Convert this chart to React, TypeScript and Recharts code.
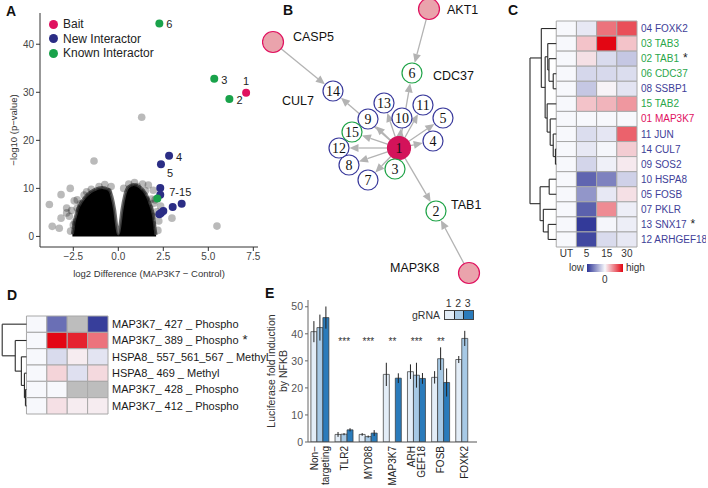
import {
  ComposedChart, ScatterChart, BarChart, Area, Scatter, Bar, ErrorBar,
  XAxis, YAxis, ReferenceLine, ReferenceArea, ReferenceDot, Legend,
} from 'recharts'

const FONT = '"Liberation Sans", Arial, Helvetica, sans-serif'
const SERIF = '"Liberation Serif", "Times New Roman", serif'

const BAIT = '#e0115f'
const NEW = '#2b2d85'
const KNOWN = '#19a24a'

// ---------- A: volcano ----------
// outline of the dense cloud of background proteins
const blobEnvelope = [
  { x: -2.55, y: 0.5 }, { x: -2.45, y: 3 }, { x: -2.3, y: 5.2 }, { x: -2.05, y: 7.2 },
  { x: -1.7, y: 8.8 }, { x: -1.3, y: 9.8 }, { x: -0.9, y: 10.2 }, { x: -0.55, y: 9.8 },
  { x: -0.35, y: 8.3 }, { x: -0.2, y: 5.5 }, { x: -0.08, y: 2 }, { x: 0, y: 0.5 },
  { x: 0.08, y: 2 }, { x: 0.2, y: 5.5 }, { x: 0.35, y: 8.5 }, { x: 0.55, y: 10.3 },
  { x: 0.85, y: 10.8 }, { x: 1.2, y: 10.3 }, { x: 1.55, y: 8.8 }, { x: 1.8, y: 6.5 },
  { x: 1.97, y: 4 }, { x: 2.05, y: 1.5 }, { x: 2.1, y: 0.3 },
]
const bgProteins = [
  { x: -3.83, y: 6.65 }, { x: -3.18, y: 8.7 }, { x: -2.67, y: 10 }, { x: -3.67, y: 2.1 },
  { x: -3.28, y: 1.7 }, { x: -2.28, y: 7.6 }, { x: -2.87, y: 4.9 }, { x: -2.72, y: 4.2 },
  { x: -3.18, y: 3.8 }, { x: -2.17, y: 5.5 }, { x: -1.94, y: 1.4 }, { x: -1.61, y: 1.4 },
  { x: -1.07, y: 10.4 }, { x: -1.76, y: 9.3 }, { x: 0.58, y: 10.9 }, { x: 1.06, y: 10.4 },
  { x: 1.67, y: 10.7 }, { x: 1.94, y: 9.6 }, { x: 2.04, y: 7.6 }, { x: 1.76, y: 5.8 },
  { x: 1.91, y: 4.2 }, { x: 2.2, y: 1.25 }, { x: 2.98, y: 3.8 }, { x: 5.48, y: 2.15 },
  { x: -0.55, y: 9.35 }, { x: 1.2, y: 9.0 }, { x: 1.52, y: 7.6 }, { x: 1.97, y: 6.9 },
  { x: -2.28, y: 5.9 }, { x: -1.94, y: 4.2 }, { x: -2.5, y: 2.4 }, { x: -1.02, y: 2.6 },
  { x: 1.58, y: 2.4 }, { x: -1.29, y: 6.1 }, { x: -2.87, y: 5.9 }, { x: 2.13, y: 5.1 },
  { x: 1.3, y: 24.8 }, { x: -1.35, y: 15.7 }, { x: -2.4, y: 3 }, { x: -2.1, y: 6.8 },
  { x: -1.5, y: 9.8 }, { x: 0.9, y: 11.2 }, { x: 1.5, y: 9.5 }, { x: 1.85, y: 7.8 },
  { x: 1.9, y: 2.5 }, { x: -2.2, y: 1 }, { x: -0.4, y: 10.4 }, { x: 0.3, y: 10 },
  { x: -2.6, y: 5.4 }, { x: -2.45, y: 7.4 }, { x: -1.9, y: 8.6 }, { x: 2.25, y: 3.2 },
  { x: -0.75, y: 10.8 }, { x: 1.35, y: 10.9 }, { x: -2.65, y: 1.1 }, { x: 2.35, y: 6.3 },
]
const baitHits = [{ x: 7.1, y: 29.9, label: '1' }]
const newHits = [
  { x: 2.82, y: 16.8, label: '4' }, { x: 2.37, y: 15, label: '5' }, { x: 2.33, y: 10.1, label: '7-15' },
  { x: 2.33, y: 8.7 }, { x: 3.52, y: 6.8 }, { x: 3.02, y: 6.1 }, { x: 2.5, y: 5.3 },
  { x: 2.37, y: 4.9 }, { x: 2.28, y: 4.6 },
]
const knownHits = [
  { x: 5.33, y: 32.8, label: '3' }, { x: 6.17, y: 28.6, label: '2' },
  { x: 2.28, y: 44.3, label: '6' }, { x: 2.17, y: 7.9 },
]
const volcanoXTicks = [-2.5, 0, 2.5, 5, 7.5]
const volcanoYTicks = [0, 10, 20, 30, 40]
const legendOrder = ['Bait', 'New Interactor', 'Known Interactor']

// label placement next to the highlighted points
const hitLabelOffset: Record<string, [number, number, 'start' | 'middle']> = {
  '1': [0, -12, 'middle'],
  '5': [6, 9, 'start'],
  '7-15': [9, 4, 'start'],
}

// ---------- B: network ----------
const nodes = [
  { id: 'AKT1', kind: 'up', x: 167, y: 9 },
  { id: 'CASP5', kind: 'up', x: 11, y: 42 },
  { id: 'MAP3K8', kind: 'up', x: 207, y: 273 },
  { id: '1', kind: 'bait', x: 137, y: 148 },
  { id: '2', kind: 'known', x: 174, y: 211 },
  { id: '3', kind: 'known', x: 133, y: 169 },
  { id: '4', kind: 'new', x: 171, y: 141 },
  { id: '5', kind: 'new', x: 181, y: 118 },
  { id: '6', kind: 'known', x: 150, y: 73 },
  { id: '7', kind: 'new', x: 106, y: 180 },
  { id: '8', kind: 'new', x: 87, y: 165 },
  { id: '9', kind: 'new', x: 106, y: 119 },
  { id: '10', kind: 'new', x: 140, y: 118 },
  { id: '11', kind: 'new', x: 161, y: 105 },
  { id: '12', kind: 'new', x: 77, y: 148 },
  { id: '13', kind: 'new', x: 122, y: 103 },
  { id: '14', kind: 'new', x: 71, y: 91 },
  { id: '15', kind: 'known', x: 90, y: 132 },
]
const edges = [
  ['CASP5', '14'], ['AKT1', '6'], ['MAP3K8', '2'],
  ['1', '2'], ['1', '3'], ['1', '4'], ['1', '5'], ['1', '6'], ['1', '7'], ['1', '8'],
  ['1', '9'], ['1', '10'], ['1', '11'], ['1', '12'], ['1', '13'], ['1', '14'], ['1', '15'],
]
const nodeLabels = [
  { text: 'AKT1', x: 185, y: 9 }, { text: 'CASP5', x: 31, y: 36 }, { text: 'CDC37', x: 171, y: 75 },
  { text: 'CUL7', x: 20, y: 100 }, { text: 'TAB1', x: 189, y: 204 }, { text: 'MAP3K8', x: 128, y: 267 },
]
const NODE_STYLE: Record<string, { r: number; fill: string; stroke: string }> = {
  up: { r: 10.5, fill: '#eaa3ac', stroke: '#e0115f' },
  bait: { r: 11.5, fill: '#d3135a', stroke: '#d3135a' },
  known: { r: 10, fill: '#ffffff', stroke: '#1fa347' },
  new: { r: 10, fill: '#ffffff', stroke: '#3a3a9c' },
}

// ---------- C: time course heatmap ----------
const cCols = ['UT', '5', '15', '30']
const cRows = ['04 FOXK2', '03 TAB3', '02 TAB1', '06 CDC37', '08 SSBP1', '15 TAB2', '01 MAP3K7',
  '11 JUN', '14 CUL7', '09 SOS2', '10 HSPA8', '05 FOSB', '07 PKLR', '13 SNX17', '12 ARHGEF18']
const cKind = ['new', 'known', 'known', 'known', 'new', 'known', 'bait',
  'new', 'new', 'new', 'new', 'new', 'new', 'new', 'new']
const cStar = [false, false, true, false, false, false, false, false, false, false, false, false, false, true, false]
const cValues = [
  [0, -0.08, 0.55, 0.7],
  [0, 0.22, 1.0, 0.22],
  [0, 0.1, -0.15, -0.25],
  [0, -0.17, -0.16, -0.14],
  [0, -0.25, 0.02, -0.1],
  [0, 0.22, 0.28, 0.4],
  [0, 0, 0, 0],
  [0, -0.14, -0.09, 0.62],
  [0, -0.08, -0.01, 0.18],
  [0, -0.18, -0.04, 0.06],
  [0, -0.75, -0.6, -0.2],
  [0, -0.5, -0.08, 0.1],
  [0, -0.77, 0.45, -0.05],
  [0, -0.97, -0.01, -0.05],
  [0, -0.9, -0.15, -0.08],
]
type Tree = number | [number, Tree, Tree]
const cTree: Tree = [1.3,
  [0.74, 0, [0.55, [0.42, 1, [0.36, 2, [0.15, 3, 4]]], [0.45, 5, [0.3, 6, [0.15, 7, [0.04, 8, 9]]]]]],
  [0.8, [0.35, 10, 11], [0.64, 12, [0.4, 13, 14]]],
]

// ---------- D: phospho-site heatmap ----------
const dRows = ['MAP3K7_ 427 _ Phospho', 'MAP3K7_ 389 _ Phospho', 'HSPA8_ 557_561_567 _ Methyl',
  'HSPA8_ 469 _ Methyl', 'MAP3K7_ 428 _ Phospho', 'MAP3K7_ 412 _ Phospho']
const dStar = [false, true, false, false, false, false]
const dValues: (number | null)[][] = [
  [0, -0.7, null, -0.95],
  [0, 1.0, 0.88, 0.55],
  [0, -0.15, 0.05, -0.1],
  [0, 0.15, -0.12, 0.13],
  [0, 0, null, null],
  [0, 0.1, 0.05, 0.05],
]
const dTree: Tree = [1.19, 0, [0.55, 1, [0.25, 2, [0.1, 3, [0.05, 4, 5]]]]]

// ---------- E: luciferase ----------
const eCats = ['Non−targeting', 'TLR2', 'MYD88', 'MAP3K7', 'ARHGEF18', 'FOSB', 'FOXK2']
const eTickLines: Record<string, string[]> = { 'Non−targeting': ['Non−', 'targeting'], ARHGEF18: ['ARH', 'GEF18'] }
const grna1 = [40.8, 2.8, 2.8, 25.0, 26.0, 23.9, 30.5]
const grna2 = [42.3, 2.9, 2.0, null, 24.7, 30.8, 38.3]
const grna3 = [46.0, 4.5, 3.3, 23.6, 23.5, 22.0, null]
const err1 = [3.9, 0.9, 0.5, 4.3, 2.7, 2.3, 1.3]
const err2 = [4.8, 0.4, 0.4, null, 4.6, 4.2, 2.8]
const err3 = [4.1, 0.6, 1.1, 1.8, 2.0, 5.2, null]
const eStars = ['', '***', '***', '**', '***', '**', '']
const eData = eCats.map((cat, i) => ({
  cat, g1: grna1[i], g2: grna2[i], g3: grna3[i], e1: err1[i], e2: err2[i], e3: err3[i],
}))
const GRNA_COLORS = ['#e3edf7', '#a7c9e5', '#2a7bbb']

// ---------- helpers ----------
const WHITE = [247, 248, 252]
const LOW = [45, 52, 150]
const HIGH = [227, 6, 19]
function heat(v: number | null) {
  if (v == null) return '#bdbdbd'
  const t = Math.min(1, Math.abs(v))
  const end = v < 0 ? LOW : HIGH
  const c = WHITE.map((w, i) => Math.round(w + (end[i] - w) * t))
  return `rgb(${c.join(',')})`
}

interface Seg { x1: number; y1: number; x2: number; y2: number }
function dendro(t: Tree, out: Seg[]): { y: number; h: number } {
  if (typeof t === 'number') return { y: t, h: 0 }
  const [h, l, r] = t
  const a = dendro(l, out)
  const b = dendro(r, out)
  out.push({ x1: -0.5 - h, y1: a.y, x2: -0.5 - h, y2: b.y })
  out.push({ x1: -0.5 - a.h, y1: a.y, x2: -0.5 - h, y2: a.y })
  out.push({ x1: -0.5 - b.h, y1: b.y, x2: -0.5 - h, y2: b.y })
  return { y: (a.y + b.y) / 2, h }
}

const hitShape = (color: string) => (p: any) => {
  const { cx, cy, payload } = p
  const off = payload.label ? (hitLabelOffset[payload.label] ?? [7, 1, 'start']) : null
  return (
    <g>
      <circle cx={cx} cy={cy} r={4} fill={color} />
      {off && (
        <text x={cx + off[0]} y={cy + off[1]} dy="0.35em" textAnchor={off[2]} fontSize={11} fill="#222" fontFamily={FONT}>
          {payload.label}
        </text>
      )}
    </g>
  )
}

const greyShape = (p: any) => <circle cx={p.cx} cy={p.cy} r={3.8} fill="#000" fillOpacity={0.27} />

const xTitle = (text: string, dy: number) => (p: any) => {
  const { x, y, width } = p.viewBox
  return (
    <text x={x + width / 2} y={y + dy} textAnchor="middle" fontSize={9.5} fill="#333" fontFamily={FONT}>{text}</text>
  )
}
const yTitle = (lines: string[], dx: number, size: number) => (p: any) => {
  const { x, y, height } = p.viewBox
  return (
    <text transform={`translate(${x + dx},${y + height / 2}) rotate(-90)`} textAnchor="middle" fontSize={size} fill="#333" fontFamily={FONT}>
      {lines.map((l, i) => <tspan key={i} x={0} y={i * (size + 1)}>{l}</tspan>)}
    </text>
  )
}

const fmtX = (v: number) => (v < 0 ? '−' : '') + Math.abs(v).toFixed(1)

function VolcanoPanel() {
  return (
    <ComposedChart width={262} height={285} margin={{ top: 13, right: 4, left: 0, bottom: 0 }}>
      <XAxis
        type="number" dataKey="x" domain={[-4.35, 7.76]} ticks={volcanoXTicks} allowDataOverflow
        tickFormatter={fmtX} height={38} tick={{ fontSize: 10, fill: '#444' }} tickSize={4} tickMargin={2}
        axisLine={{ stroke: '#333' }} tickLine={{ stroke: '#333' }}
        label={{ content: xTitle('log2 Difference (MAP3K7 − Control)', 30) }}
      />
      <YAxis
        type="number" dataKey="y" domain={[-2.2, 46.5]} ticks={volcanoYTicks} allowDataOverflow
        width={40} tick={{ fontSize: 10, fill: '#444' }} tickSize={4} tickMargin={2}
        axisLine={{ stroke: '#333' }} tickLine={{ stroke: '#333' }}
        label={{ content: yTitle(['−log10 (p−value)'], 17, 9.5) }}
      />
      <Legend
        layout="vertical" align="center" verticalAlign="middle"
        wrapperStyle={{ top: 17, left: 49, width: 'auto', height: 'auto' }}
        content={(props: any) => (
          <div style={{ fontFamily: FONT, fontSize: 12, color: '#222', lineHeight: '14.6px' }}>
            {(props.payload ?? [])
              .filter((e: any) => legendOrder.includes(e.value))
              .sort((a: any, b: any) => legendOrder.indexOf(a.value) - legendOrder.indexOf(b.value))
              .map((e: any) => (
                <div key={e.value} style={{ display: 'flex', alignItems: 'center' }}>
                  <span style={{ width: 9, height: 9, borderRadius: 5, background: e.color, marginRight: 5, display: 'inline-block' }} />
                  {e.value}
                </div>
              ))}
          </div>
        )}
      />
      <Area data={blobEnvelope} dataKey="y" type="monotone" baseValue={0} fill="#000" fillOpacity={1}
        stroke="#4a4a4a" strokeWidth={3} strokeOpacity={0.8} legendType="none" isAnimationActive={false} />
      <Scatter data={bgProteins} dataKey="y" shape={greyShape} legendType="none" isAnimationActive={false} />
      <Scatter name="Bait" data={baitHits} dataKey="y" fill={BAIT} shape={hitShape(BAIT)} isAnimationActive={false} />
      <Scatter name="New Interactor" data={newHits} dataKey="y" fill={NEW} shape={hitShape(NEW)} isAnimationActive={false} />
      <Scatter name="Known Interactor" data={knownHits} dataKey="y" fill={KNOWN} shape={hitShape(KNOWN)} isAnimationActive={false} />
    </ComposedChart>
  )
}

const nodeById: Record<string, (typeof nodes)[number]> = Object.fromEntries(nodes.map(n => [n.id, n]))

const edgeShape = (rs: number, rt: number) => (p: any) => {
  const { x1, y1, x2, y2 } = p
  const dx = x2 - x1
  const dy = y2 - y1
  const len = Math.hypot(dx, dy) || 1
  const ux = dx / len
  const uy = dy / len
  const sx = x1 + ux * rs
  const sy = y1 + uy * rs
  const tx = x2 - ux * (rt + 0.5)
  const ty = y2 - uy * (rt + 0.5)
  const bx = tx - ux * 9
  const by = ty - uy * 9
  return (
    <g>
      <line x1={sx} y1={sy} x2={bx} y2={by} stroke="#b3b3b3" strokeWidth={1.3} />
      <polygon points={`${tx},${ty} ${bx - uy * 4},${by + ux * 4} ${bx + uy * 4},${by - ux * 4}`} fill="#b3b3b3" />
    </g>
  )
}

const nodeShape = (p: any) => {
  const { cx, cy, payload } = p
  const st = NODE_STYLE[payload.kind]
  return (
    <g>
      <circle cx={cx} cy={cy} r={st.r} fill={st.fill} stroke={st.stroke} strokeWidth={1.2} />
      {payload.kind !== 'up' && (
        <text x={cx} y={cy} dy="0.36em" textAnchor="middle" fontSize={14} fill="#111" fontFamily={SERIF}>{payload.id}</text>
      )}
    </g>
  )
}
const labelShape = (p: any) => (
  <text x={p.cx} y={p.cy} dy="0.36em" fontSize={12.5} fill="#111" fontFamily={FONT}>{p.payload.text}</text>
)

function NetworkPanel() {
  return (
    <ScatterChart width={222} height={290} margin={{ top: 0, right: 0, left: 0, bottom: 0 }}>
      <XAxis type="number" dataKey="x" domain={[0, 222]} hide allowDataOverflow />
      <YAxis type="number" dataKey="y" domain={[0, 290]} reversed hide allowDataOverflow />
      {edges.map(([s, t]) => {
        const a = nodeById[s]
        const b = nodeById[t]
        return (
          <ReferenceLine
            key={s + '-' + t}
            segment={[{ x: a.x, y: a.y }, { x: b.x, y: b.y }]}
            ifOverflow="visible"
            shape={edgeShape(NODE_STYLE[a.kind].r, NODE_STYLE[b.kind].r)}
          />
        )
      })}
      <Scatter data={nodes} dataKey="y" shape={nodeShape} isAnimationActive={false} />
      <Scatter data={nodeLabels} dataKey="y" shape={labelShape} isAnimationActive={false} />
    </ScatterChart>
  )
}

interface HeatProps {
  rows: string[]
  values: (number | null)[][]
  labelColors: string[]
  stars: boolean[]
  tree: Tree
  cols: string[]
  showCols: boolean
  width: number
  height: number
  margin: { top: number; right: number; left: number; bottom: number }
  rootX: number
  yAxisWidth: number
  fontSize: number
}

function Heatmap(props: HeatProps) {
  const { rows, values, labelColors, stars, tree, cols, showCols, width, height, margin, rootX, yAxisWidth, fontSize } = props
  const segs: Seg[] = []
  dendro(tree, segs)
  const n = rows.length
  return (
    <ScatterChart width={width} height={height} margin={margin}>
      <XAxis
        type="number" dataKey="x" domain={[rootX, cols.length - 0.5]} allowDataOverflow
        ticks={cols.map((_, i) => i)} tickFormatter={(v: number) => cols[v]} hide={!showCols}
        height={20} axisLine={false} tickLine={false} tickSize={0} tickMargin={3}
        tick={{ fontSize: 10, fill: '#333' }}
      />
      <YAxis
        type="number" dataKey="y" orientation="right" reversed domain={[-0.5, n - 0.5]} allowDataOverflow
        ticks={rows.map((_, i) => i)} interval={0} width={yAxisWidth}
        axisLine={false} tickLine={false} tickSize={0} tickMargin={4}
        tick={(tp: any) => (
          <text x={tp.x} y={tp.y} dy="0.35em" textAnchor="start" fontSize={fontSize} fill={labelColors[tp.payload.value]} fontFamily={FONT}>
            {rows[tp.payload.value]}
            {stars[tp.payload.value] && <tspan fill="#222" dx={4} fontSize={fontSize + 2}>*</tspan>}
          </text>
        )}
      />
      {values.flatMap((row, r) => row.map((v, c) => (
        <ReferenceArea
          key={`${r}-${c}`} x1={c - 0.5} x2={c + 0.5} y1={r - 0.5} y2={r + 0.5}
          fill={heat(v)} fillOpacity={1} stroke="#a8a8a8" strokeWidth={1} ifOverflow="visible"
        />
      )))}
      {segs.map((s, i) => (
        <ReferenceLine key={i} segment={[{ x: s.x1, y: s.y1 }, { x: s.x2, y: s.y2 }]} stroke="#2b2b2b" strokeWidth={1.1} ifOverflow="visible" />
      ))}
    </ScatterChart>
  )
}

const LABEL_COLOR: Record<string, string> = { new: '#3e3e98', known: '#2aa64a', bait: '#e0115f' }

const ETick = (p: any) => {
  const { x, y, payload } = p
  const lines = eTickLines[payload.value] ?? [payload.value]
  return (
    <g transform={`translate(${x},${y})`}>
      <text transform="rotate(-90)" textAnchor="end" fontSize={10} fill="#222" fontFamily={FONT}>
        {lines.map((l: string, i: number) => (
          <tspan key={i} x={0} y={(i - (lines.length - 1) / 2) * 10.5 + 3.5}>{l}</tspan>
        ))}
      </text>
    </g>
  )
}

function LuciferasePanel() {
  return (
    <BarChart width={219} height={198} data={eData} margin={{ top: 10, right: 4, left: 0, bottom: 0 }} barGap={0} barCategoryGap="12%">
      <XAxis dataKey="cat" interval={0} tick={ETick} tickLine={false} tickSize={0} tickMargin={4} height={46} axisLine={{ stroke: '#555' }} />
      <YAxis
        domain={[0, 52.5]} ticks={[0, 10, 20, 30, 40, 50]} width={46} allowDataOverflow
        tick={{ fontSize: 10.5, fill: '#555' }} tickSize={3} tickMargin={2}
        axisLine={{ stroke: '#666' }} tickLine={{ stroke: '#666' }}
        label={{ content: yTitle(['Luciferase fold induction', 'by NFKB'], 13, 10.5) }}
      />
      <Legend
        layout="vertical" align="center" verticalAlign="middle"
        wrapperStyle={{ top: 8, left: 150, width: 'auto', height: 'auto' }}
        content={(props: any) => {
          const items = (props.payload ?? []).filter((e: any) => e.type !== 'none')
          return (
            <div style={{ fontFamily: FONT, fontSize: 10.5, color: '#333' }}>
              <div style={{ display: 'flex', marginLeft: 32, lineHeight: '11px' }}>
                {items.map((_: any, i: number) => <span key={i} style={{ width: 9.5, textAlign: 'center' }}>{i + 1}</span>)}
              </div>
              <div style={{ display: 'flex', alignItems: 'center' }}>
                <span style={{ width: 32 }}>gRNA</span>
                <div style={{ display: 'flex', border: '1px solid #444' }}>
                  {items.map((e: any, i: number) => (
                    <div key={i} style={{ width: 8.5, height: 8, background: e.color, borderLeft: i ? '1px solid #222' : 'none' }} />
                  ))}
                </div>
              </div>
            </div>
          )
        }}
      />
      <Bar dataKey="g1" fill={GRNA_COLORS[0]} stroke="#333" strokeWidth={0.7} isAnimationActive={false}>
        <ErrorBar dataKey="e1" width={0} stroke="#222" strokeWidth={1} />
      </Bar>
      <Bar dataKey="g2" fill={GRNA_COLORS[1]} stroke="#333" strokeWidth={0.7} isAnimationActive={false}>
        <ErrorBar dataKey="e2" width={0} stroke="#222" strokeWidth={1} />
      </Bar>
      <Bar dataKey="g3" fill={GRNA_COLORS[2]} stroke="#333" strokeWidth={0.7} isAnimationActive={false}>
        <ErrorBar dataKey="e3" width={0} stroke="#222" strokeWidth={1} />
      </Bar>
      {eCats.map((c, i) => eStars[i] && (
        <ReferenceDot key={c} x={c} y={37.3} r={0} fill="none" stroke="none" ifOverflow="visible"
          label={{ value: eStars[i], position: 'center', fontSize: 10, fill: '#333' }} />
      ))}
    </BarChart>
  )
}

const panelLetter = (ch: string, left: number, top: number) => (
  <div style={{ position: 'absolute', left, top, fontFamily: FONT, fontWeight: 'bold', fontSize: 14, color: '#111' }}>{ch}</div>
)

export default function App() {
  return (
    <div style={{ position: 'absolute', left: 0, top: 0, width: 708, height: 488, background: '#fff', overflow: 'hidden', fontFamily: FONT }}>
      <div style={{ position: 'absolute', left: 0, top: 0 }}><VolcanoPanel /></div>
      <div style={{ position: 'absolute', left: 262, top: 0 }}><NetworkPanel /></div>
      <div style={{ position: 'absolute', left: 520, top: 15 }}>
        <Heatmap
          rows={cRows} values={cValues} labelColors={cKind.map(k => LABEL_COLOR[k])} stars={cStar}
          tree={cTree} cols={cCols} showCols width={186} height={252}
          margin={{ top: 6, right: 0, left: 10, bottom: 0 }} rootX={-1.8} yAxisWidth={69} fontSize={10}
        />
      </div>
      <div style={{ position: 'absolute', left: 566, top: 262, fontSize: 10, color: '#333', width: 18, textAlign: 'right' }}>low</div>
      <div style={{ position: 'absolute', left: 587, top: 264, width: 36, height: 8, background: `linear-gradient(to right, ${heat(-1)}, ${heat(0)}, ${heat(1)})` }} />
      <div style={{ position: 'absolute', left: 626, top: 262, fontSize: 10, color: '#333' }}>high</div>
      <div style={{ position: 'absolute', left: 602, top: 274, fontSize: 10, color: '#333' }}>0</div>
      <div style={{ position: 'absolute', left: 0, top: 310 }}>
        <Heatmap
          rows={dRows} values={dValues} labelColors={dRows.map(() => '#1a1a1a')} stars={dStar}
          tree={dTree} cols={cCols} showCols={false} width={270} height={110}
          margin={{ top: 6, right: 0, left: 2, bottom: 6 }} rootX={-1.7} yAxisWidth={162} fontSize={11}
        />
      </div>
      <div style={{ position: 'absolute', left: 262, top: 290 }}><LuciferasePanel /></div>
      {panelLetter('A', 6, 3)}
      {panelLetter('B', 283, 2)}
      {panelLetter('C', 508, 2)}
      {panelLetter('D', 7, 287)}
      {panelLetter('E', 265, 285)}
    </div>
  )
}
